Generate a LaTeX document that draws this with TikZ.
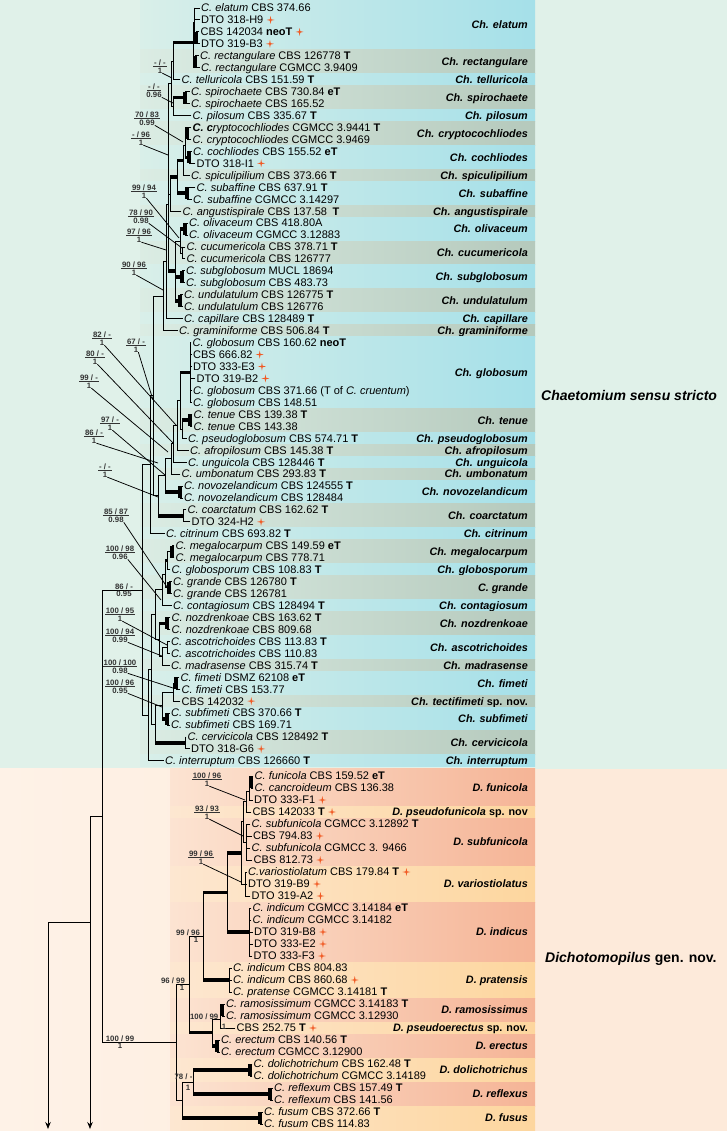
\documentclass[tikz,border=0pt]{standalone}
\usepackage{fontspec}
\setmainfont{Liberation Sans}
\usetikzlibrary{calc,arrows.meta}
\definecolor{bgT}{HTML}{E0F1E9}
\definecolor{bgD}{HTML}{FDEADA}
\definecolor{bgDl}{HTML}{FEF2E7}
\definecolor{cyanB}{HTML}{A5E0E9}
\definecolor{greyB}{HTML}{B5C9BC}
\definecolor{salB}{HTML}{F5B496}
\definecolor{orB}{HTML}{FDD69E}
\definecolor{starc}{HTML}{F15A24}
\tikzset{
 br/.style={line width=0.9pt, line cap=rect},
 tb/.style={line width=3.6pt},
 tbv/.style={line width=3.4pt},
 tx/.style={anchor=base west, inner sep=0pt, font=\fontsize{11}{13}\selectfont},
 cl/.style={anchor=base east, inner sep=0pt, font=\bfseries\fontsize{10.8}{12}\selectfont},
 grp/.style={anchor=base west, inner sep=0pt, font=\bfseries\fontsize{14}{16}\selectfont},
 sv/.style={inner sep=0.5pt, font=\bfseries\fontsize{7.8}{9}\selectfont, text=black!80},
 svr/.style={line width=0.75pt, black!80},
 ptr/.style={line width=0.75pt},
 cyb/.style={left color=cyanB!12!bgT, right color=cyanB},
 grb/.style={left color=greyB!12!bgT, right color=greyB},
 sab/.style={left color=salB!12!bgD, right color=salB},
 orb/.style={left color=orB!15!bgD, right color=orB},
 arr/.style={line width=0.9pt, -{Stealth[length=7pt,width=5.5pt]}}
}
\newcommand\Tip[4]{%
 \pgfmathsetmacro\yy{ifthenelse(#2<65,8+11.95*(#2-1),776+12*(#2-65))}%
 \coordinate (#1) at (#3,\yy);%
 \node[tx] (#1t) at ([xshift=1.5pt,yshift=-3.9pt]#1) {#4};%
}
\newcommand\TipS[4]{\Tip{#1}{#2}{#3}{#4}%
 \fill[starc,shift={([xshift=7pt,yshift=3.9pt]#1t.base east)}] (0,-4)--(0.7,-0.7)--(4,0)--(0.7,0.7)--(0,4)--(-0.7,0.7)--(-4,0)--(-0.7,-0.7)--cycle;}
\newcommand\Nd[6][br]{%
 \coordinate (tmpm) at ($(#4)!0.5!(#5)$);%
 \coordinate (tmpx) at (#3,0);%
 \coordinate (#2) at (tmpm -| tmpx);%
 \foreach \chl/\sty in {#6} {\draw[\sty] (tmpx |- \chl) -- (\chl);}%
 \draw[#1] (#4 -| tmpx) -- (#5 -| tmpx);%
}
\newcommand\Band[4]{%
 \pgfmathsetmacro\ya{ifthenelse(#2==1,0,ifthenelse(#2==65,768.5,ifthenelse(#2<65,2.025+11.95*(#2-1),770+12*(#2-65))))}%
 \pgfmathsetmacro\yb{ifthenelse(#3<65,2.025+11.95*#3,770+12*(#3-64))}%
 \pgfmathsetmacro\yc{(\ya+\yb)/2+3.9}%
 \pgfmathsetmacro\xa{ifthenelse(#3<65,140,170)}%
 \shade[#1] (\xa,\ya) rectangle (535,\yb);%
 \node[cl] (bl#2) at (528,\yc) {#4};%
}
\newcommand\Sv[7]{%
 \node[sv] (#1) at (#2,#3) {#4};%
 \draw[svr] (#1.south west) -- (#1.south east);%
 \node[sv,anchor=north] (#1b) at ([yshift=-0.8pt]#1.south) {#5};%
 \coordinate (#1e) at (#6,#7);%
 \draw[ptr] ([xshift=-0.5pt,yshift=1pt]#1b.south east) -- (#1e);%
}
\begin{document}
\begin{tikzpicture}[x=1pt,y=-1pt]
\useasboundingbox (0,0) rectangle (727,1131);
% backgrounds
\fill[bgT] (0,0) rectangle (727,768.5);
\shade[left color=bgDl, right color=bgD] (0,768.5) rectangle (535,1131);
\fill[bgD] (535,768.5) rectangle (727,1131);
% bands
\Band{cyb}{1}{4}{\textit{Ch. elatum}}
\Band{grb}{5}{6}{\textit{Ch. rectangulare}}
\Band{cyb}{7}{7}{\textit{Ch. telluricola}}
\Band{grb}{8}{9}{\textit{Ch. spirochaete}}
\Band{cyb}{10}{10}{\textit{Ch. pilosum}}
\Band{grb}{11}{12}{\textit{Ch. cryptocochliodes}}
\Band{cyb}{13}{14}{\textit{Ch. cochliodes}}
\Band{grb}{15}{15}{\textit{Ch. spiculipilium}}
\Band{cyb}{16}{17}{\textit{Ch. subaffine}}
\Band{grb}{18}{18}{\textit{Ch. angustispirale}}
\Band{cyb}{19}{20}{\textit{Ch. olivaceum}}
\Band{grb}{21}{22}{\textit{Ch. cucumericola}}
\Band{cyb}{23}{24}{\textit{Ch. subglobosum}}
\Band{grb}{25}{26}{\textit{Ch. undulatulum}}
\Band{cyb}{27}{27}{\textit{Ch. capillare}}
\Band{grb}{28}{28}{\textit{Ch. graminiforme}}
\Band{cyb}{29}{34}{\textit{Ch. globosum}}
\Band{grb}{35}{36}{\textit{Ch. tenue}}
\Band{cyb}{37}{37}{\textit{Ch. pseudoglobosum}}
\Band{grb}{38}{38}{\textit{Ch. afropilosum}}
\Band{cyb}{39}{39}{\textit{Ch. unguicola}}
\Band{grb}{40}{40}{\textit{Ch. umbonatum}}
\Band{cyb}{41}{42}{\textit{Ch. novozelandicum}}
\Band{grb}{43}{44}{\textit{Ch. coarctatum}}
\Band{cyb}{45}{45}{\textit{Ch. citrinum}}
\Band{grb}{46}{47}{\textit{Ch. megalocarpum}}
\Band{cyb}{48}{48}{\textit{Ch. globosporum}}
\Band{grb}{49}{50}{\textit{C. grande}}
\Band{cyb}{51}{51}{\textit{Ch. contagiosum}}
\Band{grb}{52}{53}{\textit{Ch. nozdrenkoae}}
\Band{cyb}{54}{55}{\textit{Ch. ascotrichoides}}
\Band{grb}{56}{56}{\textit{Ch. madrasense}}
\Band{cyb}{57}{58}{\textit{Ch. fimeti}}
\Band{grb}{59}{59}{\textit{Ch. tectifimeti} sp. nov.}
\Band{cyb}{60}{61}{\textit{Ch. subfimeti}}
\Band{grb}{62}{63}{\textit{Ch. cervicicola}}
\Band{cyb}{64}{64}{\textit{Ch. interruptum}}
\Band{sab}{65}{67}{\textit{D. funicola}}
\Band{orb}{68}{68}{\textit{D. pseudofunicola} sp. nov}
\Band{sab}{69}{72}{\textit{D. subfunicola}}
\Band{orb}{73}{75}{\textit{D. variostiolatus}}
\Band{sab}{76}{80}{\textit{D. indicus}}
\Band{orb}{81}{83}{\textit{D. pratensis}}
\Band{sab}{84}{85}{\textit{D. ramosissimus}}
\Band{orb}{86}{86}{\textit{D. pseudoerectus} sp. nov.}
\Band{sab}{87}{88}{\textit{D. erectus}}
\Band{orb}{89}{90}{\textit{D. dolichotrichus}}
\Band{sab}{91}{92}{\textit{D. reflexus}}
\Band{orb}{93}{94}{\textit{D. fusus}}
% group labels
\node[grp] (gch) at (541,400) {\textit{Chaetomium} \textit{sensu stricto}};
\node[grp] (gdi) at (545,962) {\textit{Dichotomopilus} gen. nov.};
% tips
\Tip{r1}{1}{199.5}{\textit{C. elatum} CBS 374.66}
\TipS{r2}{2}{199.5}{DTO 318-H9}
\TipS{r3}{3}{199}{CBS 142034 \textbf{neoT}}
\TipS{r4}{4}{199.5}{DTO 319-B3}
\Tip{r5}{5}{198.5}{\textit{C. rectangulare} CBS 126778 \textbf{T}}
\Tip{r6}{6}{199.5}{\textit{C. rectangulare} CGMCC 3.9409}
\Tip{r7}{7}{180}{\textit{C. telluricola} CBS 151.59 \textbf{T}}
\Tip{r8}{8}{189.5}{\textit{C. spirochaete} CBS 730.84 \textbf{eT}}
\Tip{r9}{9}{189.5}{\textit{C. spirochaete} CBS 165.52}
\Tip{r10}{10}{191}{\textit{C. pilosum} CBS 335.67 \textbf{T}}
\Tip{r11}{11}{191}{\textbf{\textit{C. c}}\textit{ryptocochliodes} CGMCC 3.9441 \textbf{T}}
\Tip{r12}{12}{191}{\textit{C. cryptocochliodes} CGMCC 3.9469}
\Tip{r13}{13}{191.5}{\textit{C. cochliodes} CBS 155.52 \textbf{eT}}
\TipS{r14}{14}{195}{DTO 318-I1}
\Tip{r15}{15}{189.5}{\textit{C. spiculipilium} CBS 373.66 \textbf{T}}
\Tip{r16}{16}{195}{\textit{C. subaffine} CBS 637.91 \textbf{T}}
\Tip{r17}{17}{191.5}{\textit{C. subaffine} CGMCC 3.14297}
\Tip{r18}{18}{181}{\textit{C. angustispirale} CBS 137.58\enspace\textbf{T}}
\Tip{r19}{19}{187.5}{\textit{C. olivaceum} CBS 418.80A}
\Tip{r20}{20}{187.5}{\textit{C. olivaceum} CGMCC 3.12883}
\Tip{r21}{21}{185}{\textit{C. cucumericola} CBS 378.71 \textbf{T}}
\Tip{r22}{22}{185}{\textit{C. cucumericola} CBS 126777}
\Tip{r23}{23}{184.5}{\textit{C. subglobosum} MUCL 18694}
\Tip{r24}{24}{184.5}{\textit{C. subglobosum} CBS 483.73}
\Tip{r25}{25}{182.5}{\textit{C. undulatulum} CBS 126775 \textbf{T}}
\Tip{r26}{26}{182.5}{\textit{C. undulatulum} CBS 126776}
\Tip{r27}{27}{182.5}{\textit{C. capillare} CBS 128489 \textbf{T}}
\Tip{r28}{28}{177.5}{\textit{C. graminiforme} CBS 506.84 \textbf{T}}
\Tip{r29}{29}{191}{\textit{C. globosum} CBS 160.62 \textbf{neoT}}
\TipS{r30}{30}{191.5}{CBS 666.82}
\TipS{r31}{31}{191.5}{DTO 333-E3}
\TipS{r32}{32}{195}{DTO 319-B2}
\Tip{r33}{33}{191.5}{\textit{C. globosum} CBS 371.66 (T of \textit{C. cruentum})}
\Tip{r34}{34}{191.5}{\textit{C. globosum} CBS 148.51}
\Tip{r35}{35}{192}{\textit{C. tenue} CBS 139.38 \textbf{T}}
\Tip{r36}{36}{192}{\textit{C. tenue} CBS 143.38}
\Tip{r37}{37}{186.5}{\textit{C. pseudoglobosum} CBS 574.71 \textbf{T}}
\Tip{r38}{38}{188.5}{\textit{C. afropilosum} CBS 145.38 \textbf{T}}
\Tip{r39}{39}{186.5}{\textit{C. unguicola} CBS 128446 \textbf{T}}
\Tip{r40}{40}{180}{\textit{C. umbonatum} CBS 293.83 \textbf{T}}
\Tip{r41}{41}{182.5}{\textit{C. novozelandicum} CBS 124555 \textbf{T}}
\Tip{r42}{42}{182.5}{\textit{C. novozelandicum} CBS 128484}
\Tip{r43}{43}{186}{\textit{C. coarctatum} CBS 162.62 \textbf{T}}
\TipS{r44}{44}{190}{DTO 324-H2}
\Tip{r45}{45}{164.5}{\textit{C. citrinum} CBS 693.82 \textbf{T}}
\Tip{r46}{46}{174}{\textit{C. megalocarpum} CBS 149.59 \textbf{eT}}
\Tip{r47}{47}{174}{\textit{C. megalocarpum} CBS 778.71}
\Tip{r48}{48}{170}{\textit{C. globosporum} CBS 108.83 \textbf{T}}
\Tip{r49}{49}{171.5}{\textit{C. grande} CBS 126780 \textbf{T}}
\Tip{r50}{50}{171.5}{\textit{C. grande} CBS 126781}
\Tip{r51}{51}{171.5}{\textit{C. contagiosum} CBS 128494 \textbf{T}}
\Tip{r52}{52}{170}{\textit{C. nozdrenkoae} CBS 163.62 \textbf{T}}
\Tip{r53}{53}{170}{\textit{C. nozdrenkoae} CBS 809.68}
\Tip{r54}{54}{169.5}{\textit{C. ascotrichoides} CBS 113.83 \textbf{T}}
\Tip{r55}{55}{169.5}{\textit{C. ascotrichoides} CBS 110.83}
\Tip{r56}{56}{169.5}{\textit{C. madrasense} CBS 315.74 \textbf{T}}
\Tip{r57}{57}{179}{\textit{C. fimeti} DSMZ 62108 \textbf{eT}}
\Tip{r58}{58}{180}{\textit{C. fimeti} CBS 153.77}
\TipS{r59}{59}{180}{CBS 142032}
\Tip{r60}{60}{169.5}{\textit{C. subfimeti} CBS 370.66 \textbf{T}}
\Tip{r61}{61}{169.5}{\textit{C. subfimeti} CBS 169.71}
\Tip{r62}{62}{186}{\textit{C. cervicicola} CBS 128492 \textbf{T}}
\TipS{r63}{63}{189.5}{DTO 318-G6}
\Tip{r64}{64}{163.5}{\textit{C. interruptum} CBS 126660 \textbf{T}}
\Tip{r65}{65}{253}{\textit{C. funicola} CBS 159.52 \textbf{eT}}
\Tip{r66}{66}{253}{\textit{C. cancroideum} CBS 136.38}
\TipS{r67}{67}{252.5}{DTO 333-F1}
\TipS{r68}{68}{251}{CBS 142033 \textbf{T}}
\Tip{r69}{69}{250}{\textit{C. subfunicola} CGMCC 3.12892 \textbf{T}}
\TipS{r70}{70}{251.5}{CBS 794.83}
\Tip{r71}{71}{250}{\textit{C. subfunicola} CGMCC 3. 9466}
\TipS{r72}{72}{252}{CBS 812.73}
\TipS{r73}{73}{246.5}{\textit{C.variostiolatum} CBS 179.84 \textbf{T}}
\TipS{r74}{74}{246.5}{DTO 319-B9}
\TipS{r75}{75}{250}{DTO 319-A2}
\Tip{r76}{76}{251}{\textit{C. indicum} CGMCC 3.14184 \textbf{eT}}
\Tip{r77}{77}{251}{\textit{C. indicum} CGMCC 3.14182}
\TipS{r78}{78}{252.5}{DTO 319-B8}
\TipS{r79}{79}{252.5}{DTO 333-E2}
\TipS{r80}{80}{252}{DTO 333-F3}
\Tip{r81}{81}{231.5}{\textit{C. indicum} CBS 804.83}
\TipS{r82}{82}{231.5}{\textit{C. indicum} CBS 860.68}
\Tip{r83}{83}{231.5}{\textit{C. pratense} CGMCC 3.14181 \textbf{T}}
\Tip{r84}{84}{224.5}{\textit{C. ramosissimum} CGMCC 3.14183 \textbf{T}}
\Tip{r85}{85}{224.5}{\textit{C. ramosissimum} CGMCC 3.12930}
\TipS{r86}{86}{235}{CBS 252.75 \textbf{T}}
\Tip{r87}{87}{219.5}{\textit{C. erectum} CBS 140.56 \textbf{T}}
\Tip{r88}{88}{219.5}{\textit{C. erectum} CGMCC 3.12900}
\Tip{r89}{89}{252}{\textit{C. dolichotrichum} CBS 162.48 \textbf{T}}
\Tip{r90}{90}{252}{\textit{C. dolichotrichum} CGMCC 3.14189}
\Tip{r91}{91}{272.5}{\textit{C. reflexum} CBS 157.49 \textbf{T}}
\Tip{r92}{92}{272.5}{\textit{C. reflexum} CBS 141.56}
\Tip{r93}{93}{262.5}{\textit{C. fusum} CBS 372.66 \textbf{T}}
\Tip{r94}{94}{262.5}{\textit{C. fusum} CBS 114.83}
% tree: upper Chaetomium
\Nd[tbv]{E1}{196}{r3}{r4}{r3/br,r4/br}
\Nd{E}{194.5}{r1}{E1}{r1/br,r2/br,E1/br}
\Nd[tbv]{Rc}{195}{r5}{r6}{r5/br,r6/br}
\Nd{ER}{193}{E}{Rc}{E/br,Rc/br}
\Nd{A}{173}{ER}{r7}{ER/tb,r7/br}
\Nd[tbv]{SP}{185}{r8}{r9}{r8/br,r9/br}
\Nd{B}{173}{SP}{r10}{SP/tb,r10/br}
\Nd{AB}{171}{A}{B}{A/br,B/br}
\Nd[tbv]{Cr}{187}{r11}{r12}{r11/br,r12/br}
\Nd[tbv]{Co}{189}{r13}{r14}{r13/br,r14/br}
\Nd{S}{185}{Cr}{Co}{Cr/br,Co/tb}
\Nd{R}{183}{S}{r15}{S/br,r15/br}
\Nd[tbv]{Sb}{187}{r16}{r17}{r16/br,r17/br}
\Nd{Q}{177}{R}{Sb}{R/tb,Sb/tb}
\Nd{P}{170}{Q}{r18}{Q/tb,r18/br}
\Nd{UU}{168}{AB}{P}{AB/br,P/br}
\Nd[tbv]{Ol}{185}{r19}{r20}{r19/br,r20/br}
\Nd{Cu}{182}{r21}{r22}{r21/br,r22/br}
\Nd{OC}{180}{Ol}{Cu}{Ol/tb,Cu/br}
\Nd[tbv]{Sg}{182}{r23}{r24}{r23/br,r24/br}
\Nd[tbv]{Un}{180}{r25}{r26}{r25/br,r26/br}
\Nd{OU}{175}{OC}{Un}{OC/br,Sg/tb,Un/tb}
\Nd{H}{168}{UU}{OU}{UU/br,OU/tb}
\Nd{HC}{166}{H}{r27}{H/br,r27/br}
\Nd{G}{163}{HC}{r28}{HC/br,r28/br}
\Nd{Gl}{190}{r29}{r34}{r29/br,r30/br,r31/br,r32/br,r33/br,r34/br}
\Nd[tbv]{Te}{190}{r35}{r36}{r35/br,r36/br}
\Nd{TP}{182}{Te}{r37}{Te/tb,r37/br}
\Nd{GTP}{180}{Gl}{TP}{Gl/tb,TP/br}
\Nd{NA}{177}{GTP}{r38}{GTP/br,r38/br}
\Nd{NU}{173}{NA}{r39}{NA/br,r39/br}
\Nd{NUm}{171}{NU}{r40}{NU/br,r40/br}
\Nd[tbv]{Nz}{180}{r41}{r42}{r41/br,r42/br}
\Nd{NNz}{165}{NUm}{Nz}{NUm/br,Nz/tb}
\Nd{Ca}{183}{r43}{r44}{r43/br,r44/br}
\Nd{NCo}{158}{NNz}{Ca}{NNz/br,Ca/tb}
\Nd{K}{153}{G}{NCo}{G/br,NCo/br}
\Nd{T}{150}{K}{r45}{K/br,r45/br}
% lower Chaetomium
\Nd[tbv]{Mg}{172}{r46}{r47}{r46/br,r47/br}
\Nd{X1}{167}{Mg}{r48}{Mg/br,r48/br}
\Nd[tbv]{Gr}{169}{r49}{r50}{r49/br,r50/br}
\Nd{X2}{165}{X1}{Gr}{X1/tb,Gr/br}
\Nd{X3}{162}{X2}{r51}{X2/br,r51/br}
\Nd[tbv]{Nz2}{167}{r52}{r53}{r52/br,r53/br}
\Nd{As}{167}{r54}{r55}{r54/br,r55/br}
\Nd{X4}{162}{As}{r56}{As/br,r56/br}
\Nd{X5}{159}{Nz2}{X4}{Nz2/tb,X4/br}
\Nd{X6}{155}{X3}{X5}{X3/br,X5/br}
\Nd[tbv]{Fi}{176}{r57}{r58}{r57/br,r58/br}
\Nd{X7}{173}{Fi}{r59}{Fi/br,r59/br}
\Nd[tbv]{Sf2}{167}{r60}{r61}{r60/br,r61/br}
\Nd{X8}{162}{X7}{Sf2}{X7/br,Sf2/tb}
\Nd{Cv}{185}{r62}{r63}{r62/br,r63/br}
\Nd{X9}{155}{X8}{Cv}{X8/br,Cv/tb}
\Nd{X10}{151}{X6}{X9}{X6/br,X9/br}
\Nd{Bt}{148}{X10}{r64}{X10/br,r64/br}
\Nd{C0}{142}{T}{Bt}{T/br,Bt/br}
% Dichotomopilus
\Nd[tbv]{Fu1}{251}{r65}{r66}{r65/br,r66/br}
\Nd{Fu}{249}{Fu1}{r67}{Fu1/br,r67/br}
\Nd{Fp}{246}{Fu}{r68}{Fu/br,r68/br}
\Nd{Sfu}{246}{r69}{r72}{r69/br,r70/br,r71/br,r72/br}
\Nd{FS}{243}{Fp}{Sfu}{Fp/br,Sfu/br}
\Nd{Va}{245}{r73}{r75}{r73/br,r74/br,r75/br}
\Nd{FSV}{241}{FS}{Va}{FS/br,Va/br}
\Nd{In}{249}{r76}{r80}{r76/br,r77/br,r78/br,r79/br,r80/br}
\Nd{FI}{227}{FSV}{In}{FSV/tb,In/tb}
\Nd{Pr}{229}{r81}{r83}{r81/br,r82/br,r83/br}
\Nd{FIP}{203}{FI}{Pr}{FI/tb,Pr/tb}
\Nd[tbv]{Ra}{222}{r84}{r85}{r84/br,r85/br}
\Nd{RP}{220}{Ra}{r86}{Ra/br,r86/br}
\Nd[tbv]{Er}{217}{r87}{r88}{r87/br,r88/br}
\Nd{RE}{212}{RP}{Er}{RP/br,Er/tb}
\Nd{D1}{189}{FIP}{RE}{FIP/br,RE/tb}
\Nd[tbv]{Do}{250}{r89}{r90}{r89/br,r90/br}
\Nd[tbv]{Re}{270}{r91}{r92}{r91/br,r92/br}
\Nd{DR}{193}{Do}{Re}{Do/tb,Re/tb}
\Nd[tbv]{Fs}{260}{r93}{r94}{r93/br,r94/br}
\Nd{DF}{182}{DR}{Fs}{DR/br,Fs/tb}
\Nd{D0}{176}{D1}{DF}{D1/br,DF/br}
\Nd{Root}{102}{C0}{D0}{C0/br,D0/br}
% outgroup arrows
\coordinate (og1) at (90,1129);
\coordinate (og2) at (48,1129);
\coordinate (oj) at (48,922);
\draw[br] (Root) -- (Root -| og1);
\draw[arr] (Root -| og1) -- (og1);
\draw[br] (oj) -- (oj -| og1);
\draw[arr] (oj) -- (og2);
% support values with pointers
\Sv{s1}{160}{63}{- / -}{1}{172}{78}
\Sv{s2}{154}{87}{- / -}{0.96}{173}{103}
\Sv{s3}{147}{115}{70 / 83}{0.99}{183}{142}
\Sv{s4}{141}{135}{- / 96}{1}{168}{155}
\Sv{s5}{144}{188}{99 / 94}{1}{179}{238}
\Sv{s6}{141}{213}{78 / 90}{0.98}{182}{248}
\Sv{s7}{139}{232}{97 / 96}{1}{166}{250}
\Sv{s8}{134}{265}{90 / 96}{1}{163}{290}
\Sv{s9}{102}{335}{82 / -}{1}{176}{425}
\Sv{s10}{136}{342}{67 / -}{1}{153}{400}
\Sv{s11}{95}{354}{80 / -}{1}{173}{443}
\Sv{s12}{89}{378}{99 / -}{1}{168}{452}
\Sv{s13}{110}{420}{97 / -}{1}{165}{475}
\Sv{s14}{94}{433}{86 / -}{1}{158}{463}
\Sv{s15}{105}{467}{- / -}{1}{158}{497}
\Sv{s16}{116}{512}{85 / 87}{0.98}{167}{587}
\Sv{s17}{120}{549}{100 / 98}{0.96}{161}{600}
\Sv{s19}{120}{611}{100 / 95}{1}{167}{645}
\Sv{s20}{120}{632}{100 / 94}{0.99}{162}{656}
\Sv{s21}{120}{663}{100 / 100}{0.98}{173}{688}
\Sv{s22}{120}{683}{100 / 96}{0.95}{162}{707}
\Sv{s23}{207}{776}{100 / 96}{1}{245}{800}
\Sv{s24}{207}{809}{93 / 93}{1}{243}{836}
\Sv{s25}{201}{854}{99 / 96}{1}{241}{882}
% support values on branches
\node[sv,anchor=south] (c0a) at ([xshift=-18pt]C0) {86 / -};
\node[sv,anchor=north] (c0b) at ([xshift=-18pt]C0) {0.95};
\node[sv,anchor=south] (d0a) at ([xshift=-56pt]D0) {100 / 99};
\node[sv,anchor=north] (d0b) at ([xshift=-56pt]D0) {1};
\node[sv,anchor=south] (d1a) at ([xshift=-16pt]D1) {96 / 99};
\node[sv,anchor=north] (d1b) at ([xshift=-7pt]D1) {1};
\node[sv,anchor=south] (fipa) at ([xshift=-15pt]FIP) {99 / 96};
\node[sv,anchor=north] (fipb) at ([xshift=-7pt]FIP) {1};
\node[sv,anchor=east] (rpa) at ([xshift=-1pt,yshift=2pt]RP) {100 / 99};
\node[sv] (rpb) at ([xshift=4pt,yshift=-8pt]RP) {1};
\node[sv] (dra) at ([xshift=-9.5pt,yshift=5pt]DR) {78 / -};
\node[sv] (drb) at ([xshift=-5pt,yshift=-6pt]DR) {1};
\end{tikzpicture}
\end{document}
